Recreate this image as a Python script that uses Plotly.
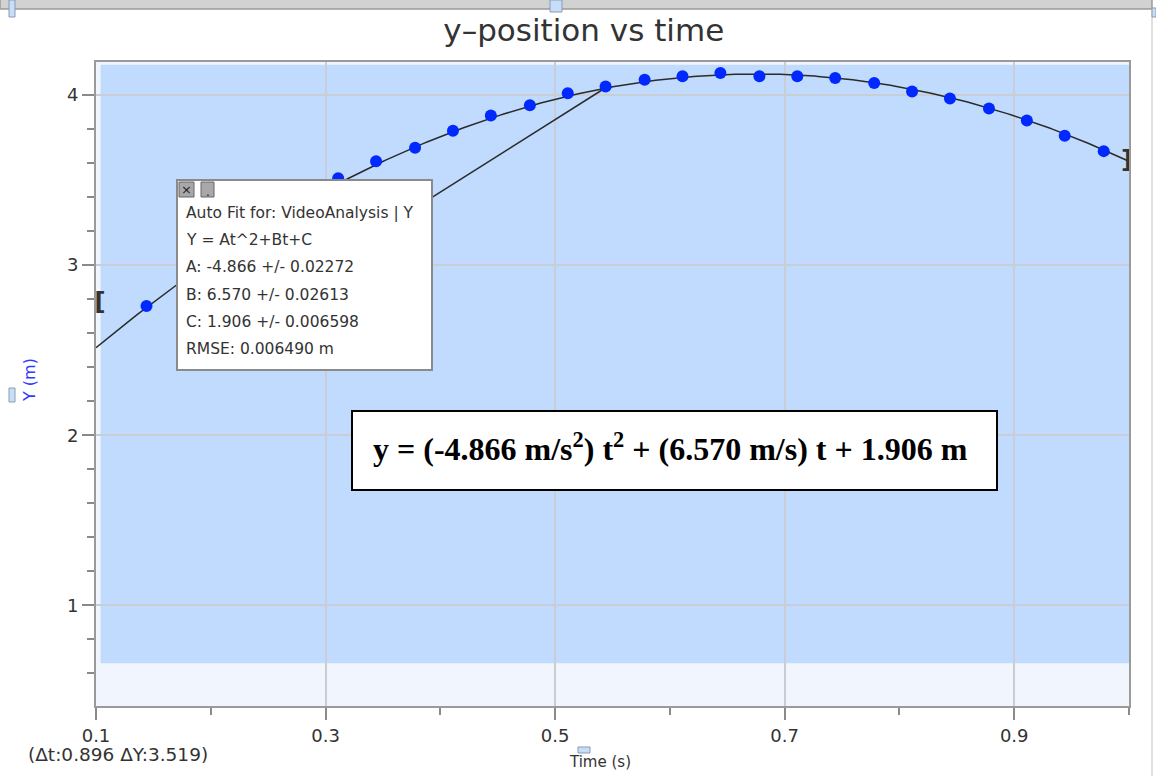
import numpy as np
import plotly.graph_objects as go

# ---------------- data ----------------
t_data = [0.144, 0.178, 0.211, 0.244, 0.278, 0.311, 0.344, 0.378, 0.411, 0.444,
          0.478, 0.511, 0.544, 0.578, 0.611, 0.644, 0.678, 0.711, 0.744, 0.778,
          0.811, 0.844, 0.878, 0.911, 0.944, 0.978]
y_data = [2.76, 2.92, 3.07, 3.22, 3.36, 3.51, 3.61, 3.69, 3.79, 3.88,
          3.94, 4.01, 4.05, 4.09, 4.11, 4.13, 4.11, 4.11, 4.10, 4.07,
          4.02, 3.98, 3.92, 3.85, 3.76, 3.67]

# fit coefficients shown in the Auto Fit box
A, B, C = -4.866, 6.570, 1.906
fit_range = [0.1, 1.0]

# straight (tangent-like) segment
seg_t = [0.25, 0.545]
seg_y = [2.79, 4.047]

# selection region and brackets
sel_t = [0.104, 1.0]
sel_y = [0.659, 4.178]
bracket_t = [0.1035, 0.998]
bracket_y = [2.77, 3.61]
bracket_txt = ["[", "]"]

x_ticks = [0.1, 0.3, 0.5, 0.7, 0.9]
x_ticktext = ["0.1", "0.3", "0.5", "0.7", "0.9"]
x_minor = [0.2, 0.4, 0.6, 0.8, 1.0]
y_ticks = [1, 2, 3, 4]

fit_lines = ["Auto Fit for: VideoAnalysis | Y",
             "Y = At^2+Bt+C",
             "A: -4.866 +/- 0.02272",
             "B: 6.570 +/- 0.02613",
             "C: 1.906 +/- 0.006598",
             "RMSE: 0.006490 m"]

# ---------------- figure ----------------
W, H = 1156, 776
L, R, T, Bm = 96, 27, 62, 70
pw, ph = W - L - R, H - T - Bm


def px(xp):
    return (xp - L) / pw


def py(yp):
    return (H - Bm - yp) / ph


FONT = "DejaVu Sans"
fig = go.Figure()

tt = np.linspace(fit_range[0], fit_range[1], 300)
fig.add_trace(go.Scatter(x=tt, y=A * tt**2 + B * tt + C, mode="lines",
                         line=dict(color="#2b2b2b", width=1.5),
                         showlegend=False, hoverinfo="skip"))
fig.add_trace(go.Scatter(x=seg_t, y=seg_y, mode="lines",
                         line=dict(color="#2b2b2b", width=1.5),
                         showlegend=False, hoverinfo="skip"))
fig.add_trace(go.Scatter(x=t_data, y=y_data, mode="markers",
                         marker=dict(color="rgb(0,40,255)", size=12),
                         showlegend=False))
fig.add_trace(go.Scatter(x=bracket_t, y=bracket_y, mode="text", text=bracket_txt,
                         textfont=dict(family=FONT, size=25, color="#333333",
                                       weight="bold"),
                         cliponaxis=False, showlegend=False, hoverinfo="skip"))

shapes = []
# selection shading
shapes.append(dict(type="rect", xref="x", yref="y", x0=sel_t[0], x1=sel_t[1],
                   y0=sel_y[0], y1=sel_y[1], fillcolor="#c0dbfd",
                   line=dict(width=0), layer="below"))
# auto-fit box
shapes.append(dict(type="rect", xref="paper", yref="paper",
                   x0=px(177), x1=px(432), y0=py(370), y1=py(180),
                   fillcolor="white", line=dict(color="#8a8a8a", width=2),
                   layer="above"))
# small buttons
for x0, x1 in [(179, 194), (201, 214)]:
    shapes.append(dict(type="rect", xref="paper", yref="paper",
                       x0=px(x0), x1=px(x1), y0=py(197), y1=py(182),
                       fillcolor="#a8a8a8", line=dict(color="#666666", width=1),
                       layer="above"))
# equation box
shapes.append(dict(type="rect", xref="paper", yref="paper",
                   x0=px(352), x1=px(997), y0=py(490), y1=py(411),
                   fillcolor="white", line=dict(color="black", width=2),
                   layer="above"))
# window chrome
shapes.append(dict(type="rect", xref="paper", yref="paper",
                   x0=px(0), x1=px(1152), y0=py(9), y1=py(-2),
                   fillcolor="#d2d2d2", line=dict(color="#9a9a9a", width=1.5),
                   layer="above"))
shapes.append(dict(type="line", xref="paper", yref="paper",
                   x0=px(1152), x1=px(1152), y0=py(9), y1=py(776),
                   line=dict(color="#d6d6d6", width=1.5)))
for (x0, x1, y0, y1) in [(9, 15, 0, 17), (550, 562, 0, 12), (1152, 1156, 8, 17),
                         (9, 15, 388, 402), (578, 590, 747, 753)]:
    shapes.append(dict(type="rect", xref="paper", yref="paper",
                       x0=px(x0), x1=px(x1), y0=py(y1), y1=py(y0),
                       fillcolor="#c7defa", line=dict(color="#8c9bb0", width=1),
                       layer="above"))

annotations = []
for i, s in enumerate(fit_lines):
    annotations.append(dict(xref="paper", yref="paper", x=px(184),
                            y=py(212.7 + i * 27.3), text=s, showarrow=False,
                            xanchor="left", yanchor="middle",
                            font=dict(family=FONT, size=15.5, color="#333333")))
annotations.append(dict(xref="paper", yref="paper", x=px(186.5), y=py(189.5),
                        text="×", showarrow=False, xanchor="center", yanchor="middle",
                        font=dict(family=FONT, size=13, color="#222222")))
annotations.append(dict(xref="paper", yref="paper", x=px(207.5), y=py(192),
                        text=".", showarrow=False, xanchor="center", yanchor="middle",
                        font=dict(family=FONT, size=12, color="#222222")))
annotations.append(dict(xref="paper", yref="paper", x=px(670.5), y=py(447),
                        text="y = (-4.866 m/s<sup>2</sup>) t<sup>2</sup> + (6.570 m/s) t + 1.906 m",
                        showarrow=False, xanchor="center", yanchor="middle",
                        font=dict(family="Liberation Serif", size=32, color="black",
                                  weight="bold")))
annotations.append(dict(xref="paper", yref="paper", x=px(29), y=py(380),
                        text="Y (m)", textangle=-90, showarrow=False,
                        xanchor="center", yanchor="middle",
                        font=dict(family=FONT, size=16, color="#2f3cff")))
annotations.append(dict(xref="paper", yref="paper", x=px(600), y=py(762),
                        text="Time (s)", showarrow=False,
                        xanchor="center", yanchor="middle",
                        font=dict(family=FONT, size=15, color="#333333")))
annotations.append(dict(xref="paper", yref="paper", x=px(26), y=py(754),
                        text="(Δt:0.896 ΔY:3.519)", showarrow=False,
                        xanchor="left", yanchor="middle",
                        font=dict(family=FONT, size=18.5, color="#333333")))

axis_common = dict(showline=True, linecolor="#9a9a9a", linewidth=2, mirror=True,
                   showgrid=True, gridcolor="#c9ced6", gridwidth=2,
                   ticks="outside", ticklen=12, tickwidth=2, tickcolor="#8a8a8a",
                   zeroline=False,
                   tickfont=dict(family=FONT, size=18, color="#333333"))

fig.update_layout(
    width=W, height=H, autosize=False,
    margin=dict(l=L, r=R, t=T, b=Bm),
    paper_bgcolor="white", plot_bgcolor="#f1f6fe",
    title=dict(text="y–position vs time", x=0.505, xref="container",
               y=1 - 30 / H, yref="container", xanchor="center", yanchor="middle",
               font=dict(family=FONT, size=31, color="#333333")),
    xaxis=dict(range=fit_range, tickvals=x_ticks, ticktext=x_ticktext,
               minor=dict(tickvals=x_minor, ticklen=7, tickwidth=2,
                          tickcolor="#8a8a8a", showgrid=False, ticks="outside"),
               **axis_common),
    yaxis=dict(range=[0.408, 4.194], tickvals=y_ticks,
               minor=dict(dtick=0.2, tick0=0, ticklen=7, tickwidth=2,
                          tickcolor="#8a8a8a", showgrid=False, ticks="outside"),
               **axis_common),
    shapes=shapes, annotations=annotations,
    showlegend=False,
)

fig.write_html("out.html",
               config={"displayModeBar": False},
               post_script="document.body.style.margin='0';"
                           "document.body.style.overflow='hidden';")
